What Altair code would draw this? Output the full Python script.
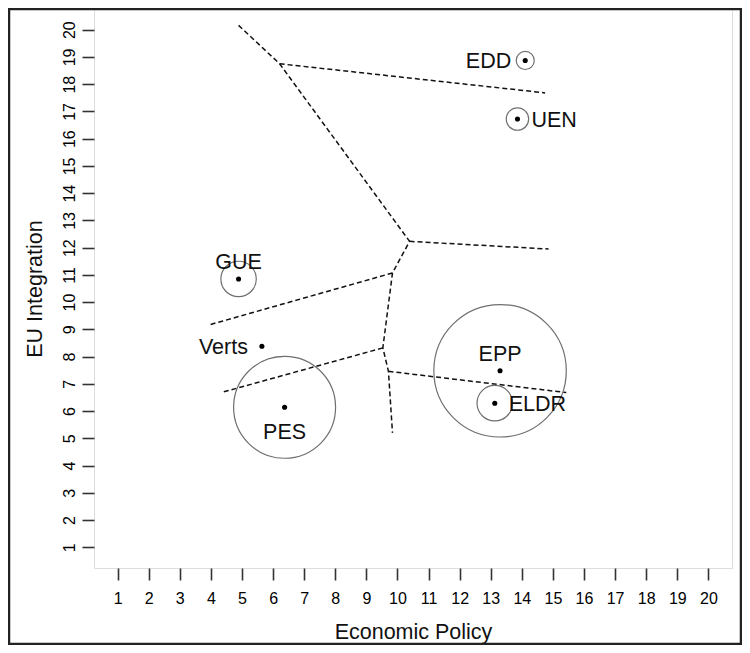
import altair as alt
import pandas as pd

# ---- data ----
parties = ["EDD", "UEN", "GUE", "Verts", "PES", "EPP", "ELDR"]
econ = [14.11, 13.86, 4.89, 5.64, 6.37, 13.30, 13.13]
integ = [18.87, 16.72, 10.85, 8.38, 6.14, 7.48, 6.29]
radius = [0.29, 0.36, 0.57, 0.0, 1.64, 2.13, 0.57]
label_side = ["left", "right", "above", "left", "below", "above", "right"]

# dashed boundary polylines
seg_x = [
    [4.89, 6.21, 10.39, 9.84, 9.53, 9.71, 9.84],
    [6.21, 14.75],
    [10.39, 14.86],
    [9.84, 3.96],
    [9.53, 4.36],
    [9.71, 15.43],
]
seg_y = [
    [20.16, 18.75, 12.23, 11.07, 8.32, 7.46, 5.20],
    [18.75, 17.68],
    [12.23, 11.95],
    [11.07, 9.17],
    [8.32, 6.69],
    [7.46, 6.68],
]
tick_values = list(range(1, 21))
DOMAIN = [0.24, 20.76]

# ---- tables ----
pts = pd.DataFrame({"party": parties, "econ": econ, "integ": integ,
                    "radius": radius, "side": label_side})
rows = []
for s, (xs_, ys_) in enumerate(zip(seg_x, seg_y)):
    for i, (a, b) in enumerate(zip(xs_, ys_)):
        rows.append({"seg": s, "ord": i, "econ": a, "integ": b})
segs = pd.DataFrame(rows)

W, H = 638, 559
px_per_unit = W / (DOMAIN[1] - DOMAIN[0])
FONT = "Liberation Sans"

xaxis = alt.Axis(values=tick_values, format="d", domain=False, grid=False,
                 tickSize=12, tickColor="#333", tickWidth=1.6,
                 labelFont=FONT, labelFontSize=16, labelColor="#000",
                 labelPadding=10, labelFlush=False, labelOverlap=False,
                 titleFont=FONT, titleFontSize=21.5, titleFontWeight="normal",
                 titleColor="#111", titleY=70, titleBaseline="alphabetic")
yaxis = alt.Axis(values=tick_values, format="d", domain=False, grid=False,
                 tickSize=12, tickColor="#333", tickWidth=1.6,
                 labelFont=FONT, labelFontSize=16, labelColor="#000",
                 labelAngle=270, labelAlign="center", labelBaseline="alphabetic",
                 labelPadding=8, labelFlush=False, labelOverlap=False,
                 titleFont=FONT, titleFontSize=21.5, titleFontWeight="normal",
                 titleColor="#111", titleAngle=270, titleAlign="center",
                 titleBaseline="alphabetic", titleX=-53, titleY=H / 2)

xs = alt.Scale(domain=DOMAIN, nice=False, zero=False)
ys = alt.Scale(domain=DOMAIN, nice=False, zero=False)


def X():
    return alt.X("econ:Q", scale=xs, axis=xaxis, title="Economic Policy")


def Y():
    return alt.Y("integ:Q", scale=ys, axis=yaxis, title="EU Integration")


lines = alt.Chart(segs).mark_line(color="#111", strokeWidth=1.5,
                                  strokeDash=[5, 3]).encode(
    x=X(), y=Y(), detail="seg:N", order="ord:Q")

rings = alt.Chart(pts).transform_filter("datum.radius > 0").mark_point(
    shape="circle", filled=False, color="#6f6f6f", strokeWidth=1.2, opacity=1
).encode(
    x=X(), y=Y(),
    size=alt.Size("radius:Q", legend=None,
                  scale=alt.Scale(type="pow", exponent=2, domain=[0, 1],
                                  range=[0, (2 * px_per_unit) ** 2])))

dots = alt.Chart(pts).mark_circle(color="black", size=26, opacity=1).encode(
    x=X(), y=Y())

offsets = {
    "left": dict(align="right", dx=-14, dy=7.7),
    "right": dict(align="left", dx=14, dy=7.7),
    "above": dict(align="center", dx=0, dy=-10),
    "below": dict(align="center", dx=0, dy=31.6),
}
texts = []
for side, kw in offsets.items():
    texts.append(
        alt.Chart(pts).transform_filter(f"datum.side == '{side}'").mark_text(
            font=FONT, fontSize=21.5, color="#111", baseline="alphabetic", **kw
        ).encode(x=X(), y=Y(), text="party:N"))

frame = alt.Chart(pd.DataFrame({"a": [0]})).mark_rect(
    fillOpacity=0, stroke="#222", strokeWidth=2.5
).encode(x=alt.value(-85), x2=alt.value(W + 9), y=alt.value(0), y2=alt.value(H + 76))

chart = alt.layer(lines, rings, dots, *texts, frame).properties(
    width=W, height=H,
    autosize=alt.AutoSizeParams(type="none"),
    padding={"left": 86, "top": 1, "right": 10, "bottom": 77},
).configure_view(stroke="#222", strokeWidth=2).configure(background="white")

chart.save("out.html", embed_options={"renderer": "svg", "actions": False})
